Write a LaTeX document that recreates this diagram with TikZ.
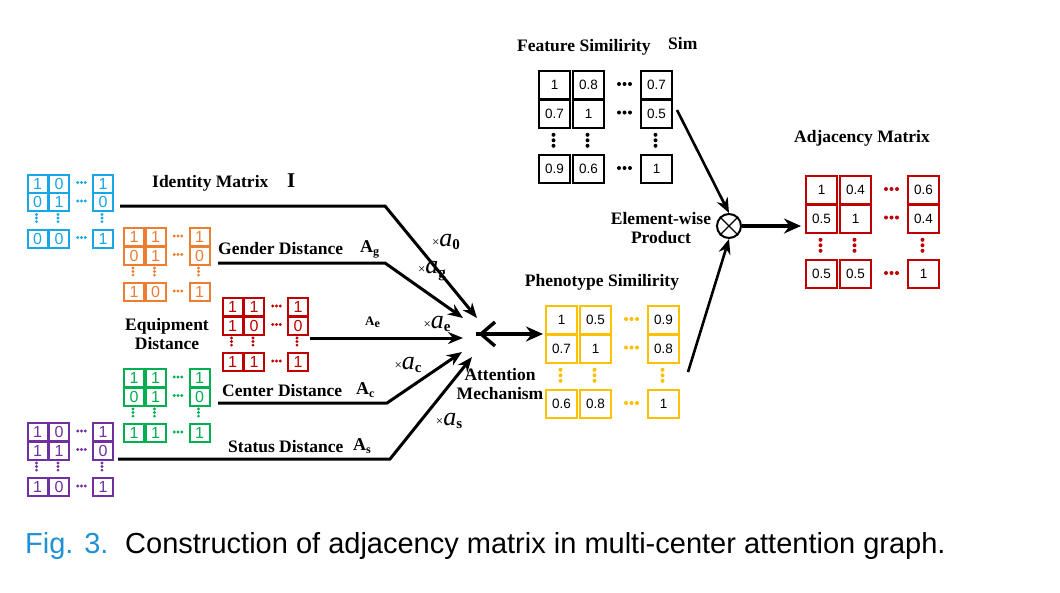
\documentclass[tikz,border=0pt]{standalone}
\usepackage{fontspec}
\setmainfont{Liberation Serif}
\newfontfamily\arialf{Liberation Sans}
\usetikzlibrary{arrows.meta}
\definecolor{cblue}{RGB}{23,166,230}
\definecolor{corange}{RGB}{237,125,49}
\definecolor{cred}{RGB}{192,0,0}
\definecolor{cgreen}{RGB}{0,176,80}
\definecolor{cpurple}{RGB}{112,48,160}
\definecolor{cyellow}{RGB}{255,192,0}
\definecolor{capblue}{RGB}{30,145,215}
\newcommand\smallgeom{\def\cw{20}\def\ch{18}\def\cxb{21.5}\def\cxc{65.5}\def\ryb{18.5}\def\ryc{55}\def\hdx{55}\def\hds{3.8}\def\vdy{44.5}\def\vds{3.6}\def\dr{1.6}\def\fs{16}\def\lw{2.1}}
\newcommand\biggeom{\def\cw{31}\def\ch{28}\def\cxb{34}\def\cxc{102}\def\ryb{28.5}\def\ryc{84}\def\hdx{86.5}\def\hds{5.5}\def\vdy{70.3}\def\vds{5.5}\def\dr{2}\def\fs{13.5}\def\lw{2.1}}
\def\tc{mc}
\newcommand\mymat[4]{\begin{scope}[shift={#2}]\colorlet{mc}{#3}\def\mn{#1}\parsev#4\relax\end{scope}}
\def\parsev#1/#2/#3/#4/#5/#6/#7/#8/#9\relax{%
 \node[mcell] (\mn-11) at (0,0) {#1};
 \node[mcell] (\mn-12) at (\cxb,0) {#2};
 \node[mcell] (\mn-13) at (\cxc,0) {#3};
 \node[mcell] (\mn-21) at (0,\ryb) {#4};
 \node[mcell] (\mn-22) at (\cxb,\ryb) {#5};
 \node[mcell] (\mn-23) at (\cxc,\ryb) {#6};
 \node[mcell] (\mn-31) at (0,\ryc) {#7};
 \node[mcell] (\mn-32) at (\cxb,\ryc) {#8};
 \node[mcell] (\mn-33) at (\cxc,\ryc) {#9};
 \foreach \yy in {0,\ryb,\ryc}{\foreach \dd in {-1,0,1}{\fill[mc] ({\hdx+\dd*\hds},{\yy+\ch/2}) circle (\dr pt);}}
 \foreach \xx in {0,\cxb,\cxc}{\foreach \dd in {-1,0,1}{\fill[mc] ({\xx+\cw/2},{\vdy+\dd*\vds}) circle (\dr pt);}}
}
\newcommand\subx[1]{\raisebox{-0.4ex}{\fontsize{12}{12}\selectfont #1}}
\newcommand\wl[1]{{\fontsize{13}{13}\selectfont ×}{\fontsize{26}{26}\selectfont\itshape a}{\fontsize{15}{15}\selectfont\bfseries\raisebox{-0.45ex}{#1}}}
\tikzset{
 mcell/.style={draw=mc, text=\tc, line width=\lw pt, minimum width=\cw pt, minimum height=\ch pt, inner sep=0pt, anchor=north west, font=\arialf\fontsize{\fs}{\fs}\selectfont},
 lab/.style={inner sep=0pt, font=\bfseries\fontsize{17.5}{19}\selectfont},
 conn/.style={line width=3pt, -{Stealth[length=15pt,width=12pt]}},
 bigarrow/.style={line width=4pt, -{Stealth[length=17pt,width=15pt]}},
 wlab/.style={inner sep=0pt}
}
\begin{document}
\begin{tikzpicture}[x=1pt,y=-1pt]
\fill[white] (0,0) rectangle (1060,592);
\useasboundingbox (0,0) rectangle (1060,592);
% matrices
\smallgeom
\mymat{bm}{(26.5,173.5)}{cblue}{1/0/1/0/1/0/0/0/1}
\mymat{om}{(123,227)}{corange}{1/1/1/0/1/0/1/0/1}
\mymat{rm}{(221.5,297)}{cred}{1/1/1/1/0/0/1/1/1}
\mymat{gm}{(123,368)}{cgreen}{1/1/1/0/1/0/1/1/1}
\mymat{pm}{(26.5,422)}{cpurple}{1/0/1/1/1/0/1/0/1}
\biggeom
\def\tc{black}
\mymat{fm}{(538,70)}{black}{1/0.8/0.7/0.7/1/0.5/0.9/0.6/1}
\mymat{ym}{(545,305)}{cyellow}{1/0.5/0.9/0.7/1/0.8/0.6/0.8/1}
\mymat{am}{(805,175)}{cred}{1/0.4/0.6/0.5/1/0.4/0.5/0.5/1}
% labels
\node[lab,anchor=west] (tid) at (152,183) {Identity Matrix};
\node[lab,anchor=west,font=\bfseries\fontsize{21}{22}\selectfont] (tI) at (287,181) {I};
\node[lab,anchor=west] (tgd) at (218,249) {Gender Distance};
\node[lab,anchor=west] (tag) at (360,249) {{\fontsize{18}{18}\selectfont A}\subx{g}};
\node[lab,align=center] (teq) at (167,334) {Equipment\\Distance};
\node[lab,anchor=west,font=\bfseries\fontsize{13}{13}\selectfont] (tae) at (365,322) {A\subx{e}};
\node[lab,anchor=west] (tcd) at (222,391) {Center Distance};
\node[lab,anchor=west] (tac) at (356,390) {{\fontsize{18}{18}\selectfont A}\subx{c}};
\node[lab,anchor=west] (tsd) at (228,447) {Status Distance};
\node[lab,anchor=west] (tas) at (353,446) {{\fontsize{18}{18}\selectfont A}\subx{s}};
\node[lab,anchor=west] (tfs) at (517,47) {Feature Similirity};
\node[lab,anchor=west] (tsim) at (668,44) {Sim};
\node[lab] (tadj) at (862,138) {Adjacency Matrix};
\node[lab,align=center] (tew) at (661,228) {Element-wise\\Product};
\node[lab] (tps) at (602,282) {Phenotype Similirity};
\node[lab,align=center] (tatt) at (500,384) {Attention\\Mechanism};
% weights
\node[wlab] (w0) at (446,242) {\wl{0}};
\node[wlab] (wg) at (432,271) {\wl{g}};
\node[wlab] (we) at (437,324) {\wl{e}};
\node[wlab] (wc) at (408,365) {\wl{c}};
\node[wlab] (ws) at (449,421) {\wl{s}};
% connectors
\coordinate (i0) at (120,206); \coordinate (i1) at (385,206); \coordinate (t0) at (477,318);
\coordinate (g0) at (218,263); \coordinate (g1) at (385,263); \coordinate (tg) at (463,318);
\coordinate (e0) at (310,338); \coordinate (te) at (463,338);
\coordinate (c0) at (218,403); \coordinate (c1) at (387,403); \coordinate (tcc) at (462,352);
\coordinate (s0) at (118,459); \coordinate (s1) at (390,459); \coordinate (ts) at (472,357);
\draw[conn] (i0) -- (i1) -- (t0);
\draw[conn] (g0) -- (g1) -- (tg);
\draw[conn] (e0) -- (te);
\draw[conn] (c0) -- (c1) -- (tcc);
\draw[conn] (s0) -- (s1) -- (ts);
% attention mechanism
\coordinate (ch1) at (495,322); \coordinate (ch2) at (481,334); \coordinate (ch3) at (495,346);
\draw[line width=3.4pt] (ch1) -- (ch2) -- (ch3);
\coordinate (att) at (476,334); \coordinate (phin) at (543,334);
\draw[bigarrow] (att) -- (phin);
% element-wise product
\node[circle,draw,line width=2pt,minimum size=24pt,inner sep=0pt] (ot) at (729,226) {};
\draw[line width=1.3pt] (ot.north west) -- (ot.south east) (ot.north east) -- (ot.south west);
\coordinate (f0) at (677,110); \coordinate (p0) at (688,372); \coordinate (adjin) at (801,226);
\draw[conn,line width=2.6pt] (f0) -- (ot.north);
\draw[conn,line width=2.6pt] (p0) -- (ot.south);
\draw[bigarrow] (ot.east) -- (adjin);
% caption
\node[anchor=west,inner sep=0pt,font=\arialf\fontsize{29}{30}\selectfont,text=capblue] (cap1) at (25,546) {Fig. 3.};
\node[anchor=west,inner sep=0pt,font=\arialf\fontsize{29}{30}\selectfont] (cap2) at (125,546) {Construction of adjacency matrix in multi-center attention graph.};
\end{tikzpicture}
\end{document}
